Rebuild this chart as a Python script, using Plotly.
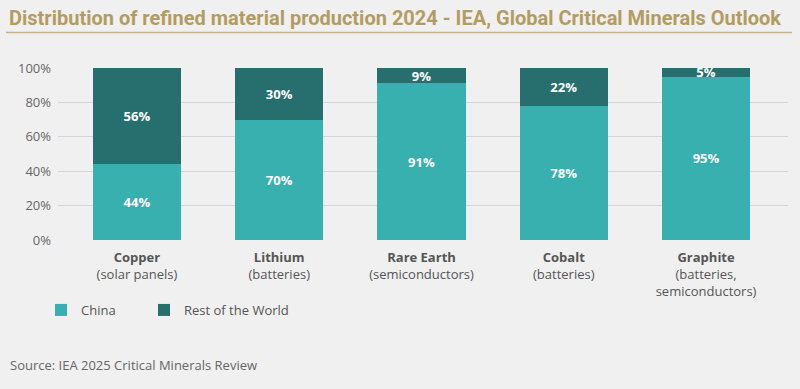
import plotly.graph_objects as go

minerals = ["Copper", "Lithium", "Rare Earth", "Cobalt", "Graphite"]
uses = ["(solar panels)", "(batteries)", "(semiconductors)", "(batteries)", "(batteries,<br>semiconductors)"]
china = [44, 70, 91, 78, 95]
rest_of_world = [56, 30, 9, 22, 5]
y_ticks = [0, 20, 40, 60, 80, 100]
y_tick_labels = ["0%", "20%", "40%", "60%", "80%", "100%"]

CHINA_C = "#38b0b0"
ROW_C = "#266f6e"
BG = "#f0f0f0"
FONT = "Open Sans, Noto Sans, sans-serif"

tick_text = [f"<b>{m}</b><br>{u}" for m, u in zip(minerals, uses)]

# plot area in pixels
L, R, T, B = 58, 788, 68, 240
W, H = 800, 389
def px(x):
    return (x - L) / (R - L)
def py(y):
    return (B - y) / (B - T)

fig = go.Figure()
fig.add_trace(go.Bar(
    x=minerals, y=china, name="China", marker=dict(color=CHINA_C, line=dict(width=0)),
    text=[f"<b>{v}%</b>" for v in china], textposition="inside", insidetextanchor="middle",
    textfont=dict(color="white", size=13, family=FONT), width=0.62, legend="legend",
))
fig.add_trace(go.Bar(
    x=minerals, y=rest_of_world, name="Rest of the World", marker=dict(color=ROW_C, line=dict(width=0)),
    text=[f"<b>{v}%</b>" for v in rest_of_world], textposition="inside", insidetextanchor="middle",
    textfont=dict(color="white", size=13, family=FONT), width=0.62, legend="legend2",
))

legend_common = dict(
    orientation="h", xanchor="left", yanchor="top",
    font=dict(size=13, color="#555555"), bgcolor="rgba(0,0,0,0)", itemwidth=30,
)

fig.update_layout(
    barmode="stack",
    width=W, height=H,
    paper_bgcolor=BG, plot_bgcolor=BG,
    margin=dict(l=L, r=W - R, t=T, b=H - B),
    font=dict(family=FONT, color="#555555", size=13),
    uniformtext=dict(minsize=8, mode="show"),
    hovermode=False,
    xaxis=dict(
        tickmode="array", tickvals=minerals, ticktext=tick_text,
        range=[-0.555, 4.576], showgrid=False, zeroline=False, showline=False,
        ticks="", ticklabelstandoff=8, tickfont=dict(size=13, color="#555555"),
    ),
    yaxis=dict(
        tickmode="array", tickvals=y_ticks, ticktext=y_tick_labels,
        range=[0, 100], showgrid=True, gridcolor="#d6d6d6", gridwidth=1,
        zeroline=False, showline=False, ticks="", ticklabelstandoff=6,
        tickfont=dict(size=13, color="#666666"),
    ),
    showlegend=True,
    legend=dict(x=px(41), y=py(295), **legend_common),
    legend2=dict(x=px(144), y=py(295), **legend_common),
    annotations=[
        dict(
            text="<b>Distribution of refined material production 2024 - IEA, Global Critical Minerals Outlook</b>",
            xref="paper", yref="paper", x=px(7), y=py(18), xanchor="left", yanchor="middle",
            showarrow=False, font=dict(family="Roboto, sans-serif", size=20, color="#b39c62"),
        ),
        dict(
            text="Source: IEA 2025 Critical Minerals Review",
            xref="paper", yref="paper", x=px(8), y=py(365), xanchor="left", yanchor="middle",
            showarrow=False, font=dict(family=FONT, size=13, color="#666666"),
        ),
    ],
    shapes=[
        dict(type="line", xref="paper", yref="paper", x0=px(6), x1=px(792), y0=py(32.5), y1=py(32.5),
             line=dict(color="#c8b48a", width=1.5)),
    ],
)

fig.write_html("out.html", config={"displayModeBar": False},
               post_script="document.body.style.margin='0';document.body.style.background='#f0f0f0';")
